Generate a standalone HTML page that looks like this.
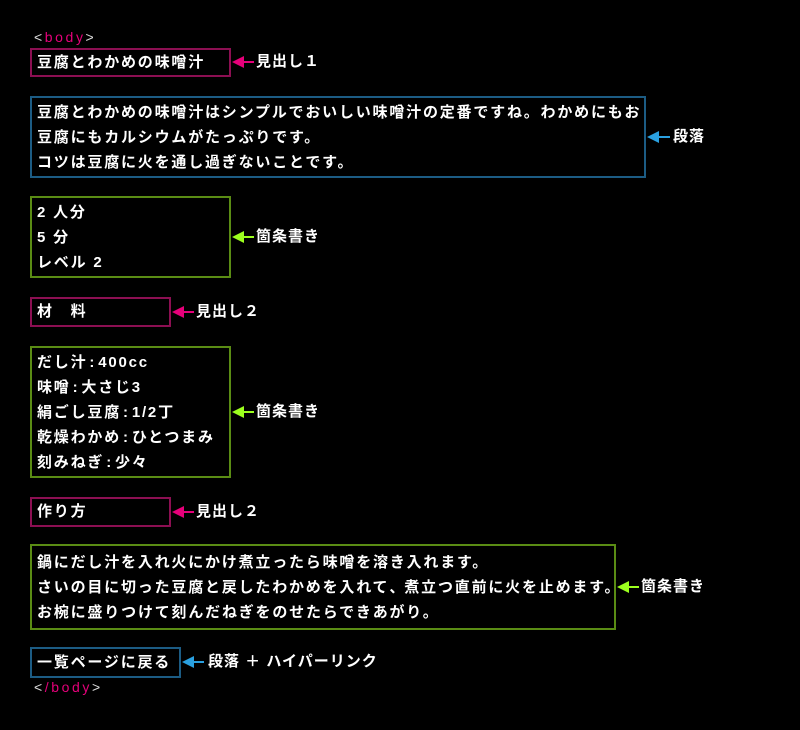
<!DOCTYPE html>
<html><head><meta charset="utf-8"><style>
body{margin:0;width:800px;height:730px;background:#000;overflow:hidden;position:relative;font-family:"Liberation Sans","Noto Sans CJK JP",sans-serif;font-weight:bold;color:#fff;}
.b{position:absolute;box-sizing:border-box;border:2px solid;padding:0 0 0 5px;font-size:15px;letter-spacing:1.8px;line-height:25px;}
.h{border-color:#8c0f52;}
.p{border-color:#1c5c84;}
.l{border-color:#5a8c14;}
.b div{white-space:nowrap;}
.c{margin:0 2px;}
.lab{position:absolute;font-size:15px;letter-spacing:1px;line-height:20px;white-space:nowrap;}
.tag{position:absolute;font-size:14px;letter-spacing:2.6px;font-weight:normal;color:#ddd;}
.tag span{color:#e6007a;}
svg{position:absolute;}
</style></head><body>
<div class="tag" style="left:34px;top:29px">&lt;<span>body</span>&gt;</div>
<div class="tag" style="left:34px;top:679px">&lt;<span>/body</span>&gt;</div>

<div class="b h" style="left:30px;top:48px;width:201px;height:29px;line-height:25px">豆腐とわかめの味噌汁</div>
<div class="b p" style="left:30px;top:96px;width:616px;height:82px;padding-top:2px"><div>豆腐とわかめの味噌汁はシンプルでおいしい味噌汁の定番ですね。わかめにもお</div><div>豆腐にもカルシウムがたっぷりです。</div><div>コツは豆腐に火を通し過ぎないことです。</div></div>
<div class="b l" style="left:30px;top:196px;width:201px;height:82px;padding-top:2px"><div>2 人分</div><div>5 分</div><div>レベル 2</div></div>
<div class="b h" style="left:30px;top:297px;width:141px;height:30px">材　料</div>
<div class="b l" style="left:30px;top:346px;width:201px;height:132px;padding-top:2px"><div>だし汁<span class="c">:</span>400cc</div><div>味噌<span class="c">:</span>大さじ3</div><div>絹ごし豆腐<span class="c">:</span>1/2丁</div><div>乾燥わかめ<span class="c">:</span>ひとつまみ</div><div>刻みねぎ<span class="c">:</span>少々</div></div>
<div class="b h" style="left:30px;top:497px;width:141px;height:30px">作り方</div>
<div class="b l" style="left:30px;top:544px;width:586px;height:86px;padding-top:4px"><div>鍋にだし汁を入れ火にかけ煮立ったら味噌を溶き入れます。</div><div>さいの目に切った豆腐と戻したわかめを入れて<span style="letter-spacing:0">、</span>煮立つ直前に火を止めます。</div><div>お椀に盛りつけて刻んだねぎをのせたらできあがり。</div></div>
<div class="b p" style="left:30px;top:647px;width:151px;height:31px;line-height:27px">一覧ページに戻る</div>

<svg width="800" height="730" style="left:0;top:0">
<g fill="#e6007a" stroke="#e6007a" stroke-width="2">
<line x1="240" y1="62" x2="254" y2="62"/><polygon stroke="none" points="232,62 244,56 244,68"/>
<line x1="180" y1="312" x2="194" y2="312"/><polygon stroke="none" points="172,312 184,306 184,318"/>
<line x1="180" y1="512" x2="194" y2="512"/><polygon stroke="none" points="172,512 184,506 184,518"/>
</g>
<g fill="#2aa0e0" stroke="#2aa0e0" stroke-width="2">
<line x1="655" y1="137" x2="670" y2="137"/><polygon stroke="none" points="647,137 659,131 659,143"/>
<line x1="190" y1="662" x2="204" y2="662"/><polygon stroke="none" points="182,662 194,656 194,668"/>
</g>
<g fill="#9cff1e" stroke="#9cff1e" stroke-width="2">
<line x1="240" y1="237" x2="254" y2="237"/><polygon stroke="none" points="232,237 244,231 244,243"/>
<line x1="240" y1="412" x2="254" y2="412"/><polygon stroke="none" points="232,412 244,406 244,418"/>
<line x1="625" y1="587" x2="639" y2="587"/><polygon stroke="none" points="617,587 629,581 629,593"/>
</g>
</svg>

<div class="lab" style="left:256px;top:52px">見出し１</div>
<div class="lab" style="left:673px;top:127px">段落</div>
<div class="lab" style="left:256px;top:227px">箇条書き</div>
<div class="lab" style="left:196px;top:302px">見出し２</div>
<div class="lab" style="left:256px;top:402px">箇条書き</div>
<div class="lab" style="left:196px;top:502px">見出し２</div>
<div class="lab" style="left:641px;top:577px">箇条書き</div>
<div class="lab" style="left:208px;top:652px">段落 ＋ ハイパーリンク</div>
</body></html>
